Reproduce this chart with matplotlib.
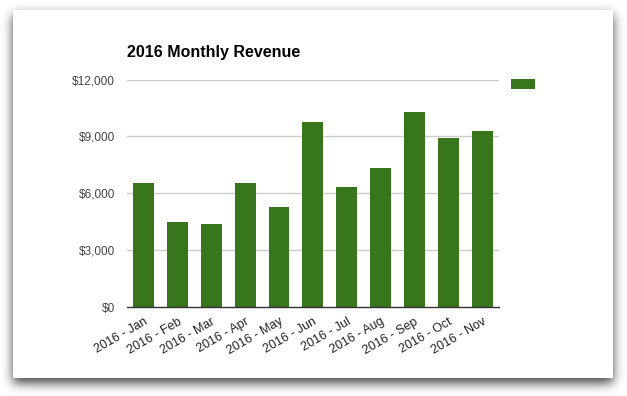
import numpy as np
import matplotlib.pyplot as plt
import matplotlib.patches as patches
from matplotlib.ticker import FuncFormatter

plt.rcParams['font.family'] = ['Liberation Sans', 'DejaVu Sans']

# Данные
months = ["2016 - Jan", "2016 - Feb", "2016 - Mar", "2016 - Apr", "2016 - May",
          "2016 - Jun", "2016 - Jul", "2016 - Aug", "2016 - Sep", "2016 - Oct",
          "2016 - Nov"]
revenue = [6550, 4490, 4390, 6550, 5280, 9750, 6330, 7330, 10280, 8910, 9280]
y_ticks = [0, 3000, 6000, 9000, 12000]

bar_color = "#38761d"
W, H = 627, 396

fig = plt.figure(figsize=(W / 100, H / 100), dpi=100)
fig.patch.set_facecolor('white')

# Фон: карточка с размытой тенью (в пикселях)
bg = fig.add_axes([0, 0, 1, 1])
bg.set_xlim(0, W)
bg.set_ylim(H, 0)
bg.axis('off')
cx, cy, cw, ch = 13, 10, 600, 368

mask = np.zeros((H, W))
mask[cy + 5:cy + ch + 5, cx:cx + cw] = 1.0
k = np.arange(-18, 19)
kernel = np.exp(-k ** 2 / (2 * 5.5 ** 2))
kernel /= kernel.sum()
blur = np.apply_along_axis(lambda r: np.convolve(r, kernel, mode='same'), 1, mask)
blur = np.apply_along_axis(lambda c: np.convolve(c, kernel, mode='same'), 0, blur)
shadow = np.zeros((H, W, 4))
shadow[..., 3] = 0.75 * blur
bg.imshow(shadow, extent=(0, W, H, 0), interpolation='nearest', zorder=1)
bg.add_patch(patches.Rectangle((cx, cy), cw, ch, facecolor='white', edgecolor='none', zorder=2))

# Основной график
left, right, top, bottom = 126.7, 499, 79.5, 307.3
ax = fig.add_axes([left / W, 1 - bottom / H, (right - left) / W, (bottom - top) / H])
ax.set_facecolor('none')

x = range(len(months))
ax.bar(x, revenue, width=0.62, color=bar_color, zorder=3)

ax.set_xlim(-0.5, len(months) - 0.5)
ax.set_ylim(0, 12000)
ax.set_yticks(y_ticks)
ax.yaxis.set_major_formatter(FuncFormatter(lambda v, p: f"${v:,.0f}"))
ax.set_xticks(list(x))
ax.set_xticklabels(months, rotation=30, ha='right', rotation_mode='anchor',
                   fontsize=9, color='#222222')
ax.tick_params(axis='y', length=0, pad=8.4, labelsize=8.5, labelcolor='#444444')
ax.tick_params(axis='x', length=0, pad=6)

for v in y_ticks[1:]:
    ax.axhline(v, color='#cccccc', linewidth=1, zorder=1)

for s in ['top', 'right', 'left']:
    ax.spines[s].set_visible(False)
ax.spines['bottom'].set_color('#333333')
ax.spines['bottom'].set_linewidth(1)
ax.spines['bottom'].set_zorder(4)

# Заголовок
fig.text(left / W, 1 - 52 / H, "2016 Monthly Revenue", fontsize=11.5, fontweight='bold',
         ha='left', va='center', color='black')

# Легенда (без подписи)
fig.legend(handles=[patches.Patch(facecolor=bar_color, edgecolor='none')], labels=[''],
           loc='upper left', bbox_to_anchor=(511 / W, 1 - 79 / H), frameon=False,
           borderpad=0, borderaxespad=0, handlelength=1.9, handleheight=0.9,
           handletextpad=0, fontsize=9)

plt.savefig("out.png", dpi=100, facecolor='white')
